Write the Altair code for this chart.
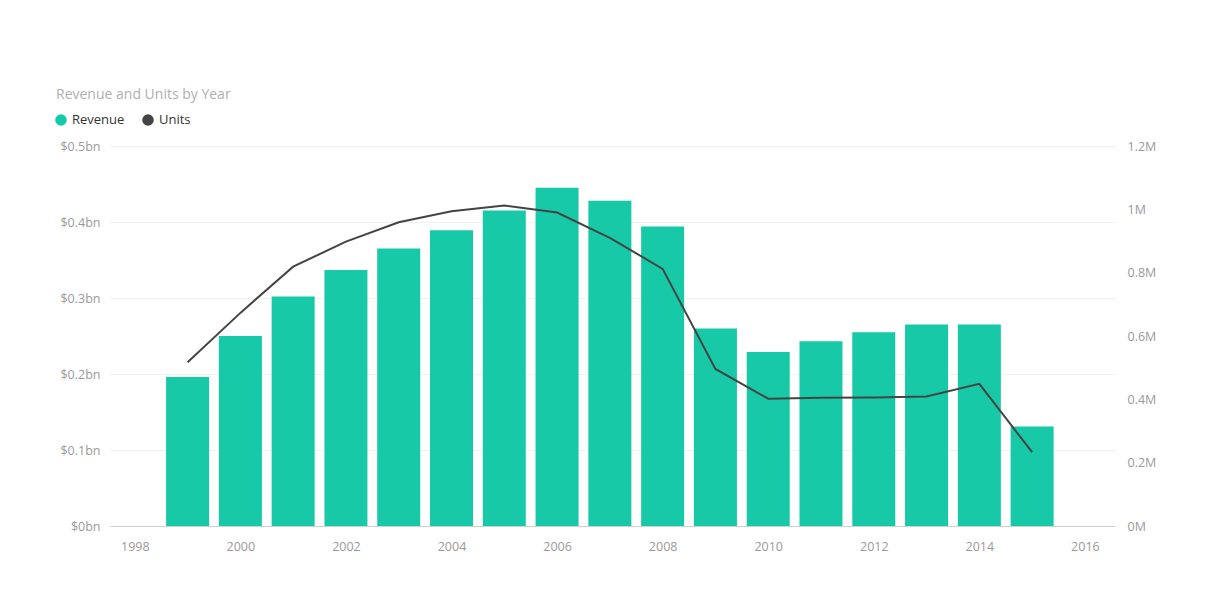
import altair as alt
import pandas as pd

years = list(range(1999, 2016))
revenue_bn = [0.196, 0.250, 0.302, 0.337, 0.365, 0.389, 0.415, 0.445, 0.428,
              0.394, 0.260, 0.229, 0.243, 0.255, 0.265, 0.265, 0.131]
units_m = [0.517, 0.673, 0.819, 0.898, 0.959, 0.994, 1.012, 0.990, 0.910,
           0.812, 0.496, 0.402, 0.405, 0.406, 0.409, 0.449, 0.233]
series_names = ["Revenue", "Units"]
series_colors = ["#17c9a6", "#444444"]
x_ticks = list(range(1998, 2017, 2))
left_ticks = [0, 0.1, 0.2, 0.3, 0.4, 0.5]
right_ticks = [0, 0.2, 0.4, 0.6, 0.8, 1.0, 1.2]

df = pd.DataFrame({"Year": years, "Revenue": revenue_bn, "Units": units_m,
                   "series_r": "Revenue"})

FONT = "Open Sans"
LBL = "#9a9a9a"
AX = 12.5

x_enc = alt.X("Year:Q",
              scale=alt.Scale(domain=[1997.53, 2016.57], nice=False, zero=False, padding=0),
              axis=alt.Axis(values=x_ticks, format="d", title=None, grid=False,
                            ticks=False, domain=True, domainColor="#cfcfcf",
                            labelPadding=14, labelColor=LBL, labelFontSize=AX,
                            labelFont=FONT))

bars = alt.Chart(df).mark_bar(width=43).encode(
    x=x_enc,
    y=alt.Y("Revenue:Q",
            scale=alt.Scale(domain=[0, 0.5], nice=False),
            axis=alt.Axis(values=left_ticks, title=None, orient="left",
                          labelExpr="datum.value == 0 ? '$0bn' : '$' + format(datum.value, '.1f') + 'bn'",
                          ticks=False, domain=False, grid=True, gridColor="#f0f0f0",
                          labelPadding=10, labelColor=LBL, labelFontSize=AX,
                          labelFont=FONT)),
    color=alt.Color("series_r:N",
                    scale=alt.Scale(domain=series_names, range=series_colors),
                    legend=alt.Legend(title=None, orient="none", direction="horizontal",
                                      legendX=-56, legendY=-33, symbolType="circle",
                                      symbolSize=135, labelFontSize=13,
                                      labelColor="#333333", labelFont=FONT,
                                      columnPadding=16, padding=0)),
)

line = alt.Chart(df).mark_line(color=series_colors[1], strokeWidth=2).encode(
    x=alt.X("Year:Q"),
    y=alt.Y("Units:Q",
            scale=alt.Scale(domain=[0, 1.2], nice=False),
            axis=alt.Axis(values=right_ticks, title=None, orient="right",
                          labelExpr="datum.value == 0 ? '0M' : format(datum.value, '~g') + 'M'",
                          ticks=False, domain=False, grid=False,
                          labelPadding=12, labelColor=LBL, labelFontSize=AX,
                          labelFont=FONT)),
)

chart = alt.layer(bars, line).resolve_scale(y="independent").properties(
    width=1005, height=380,
    title=alt.TitleParams("Revenue and Units by Year", anchor="start", frame="group",
                          dx=-54, offset=11, fontSize=14, fontWeight="normal",
                          color="#b0b0b0", font=FONT),
    autosize=alt.AutoSizeParams(type="none"),
    padding={"left": 102, "top": 138, "right": 60, "bottom": 60},
).configure(background="white").configure_view(stroke=None)

chart.save("out.html", embed_options={"renderer": "svg", "actions": False})
